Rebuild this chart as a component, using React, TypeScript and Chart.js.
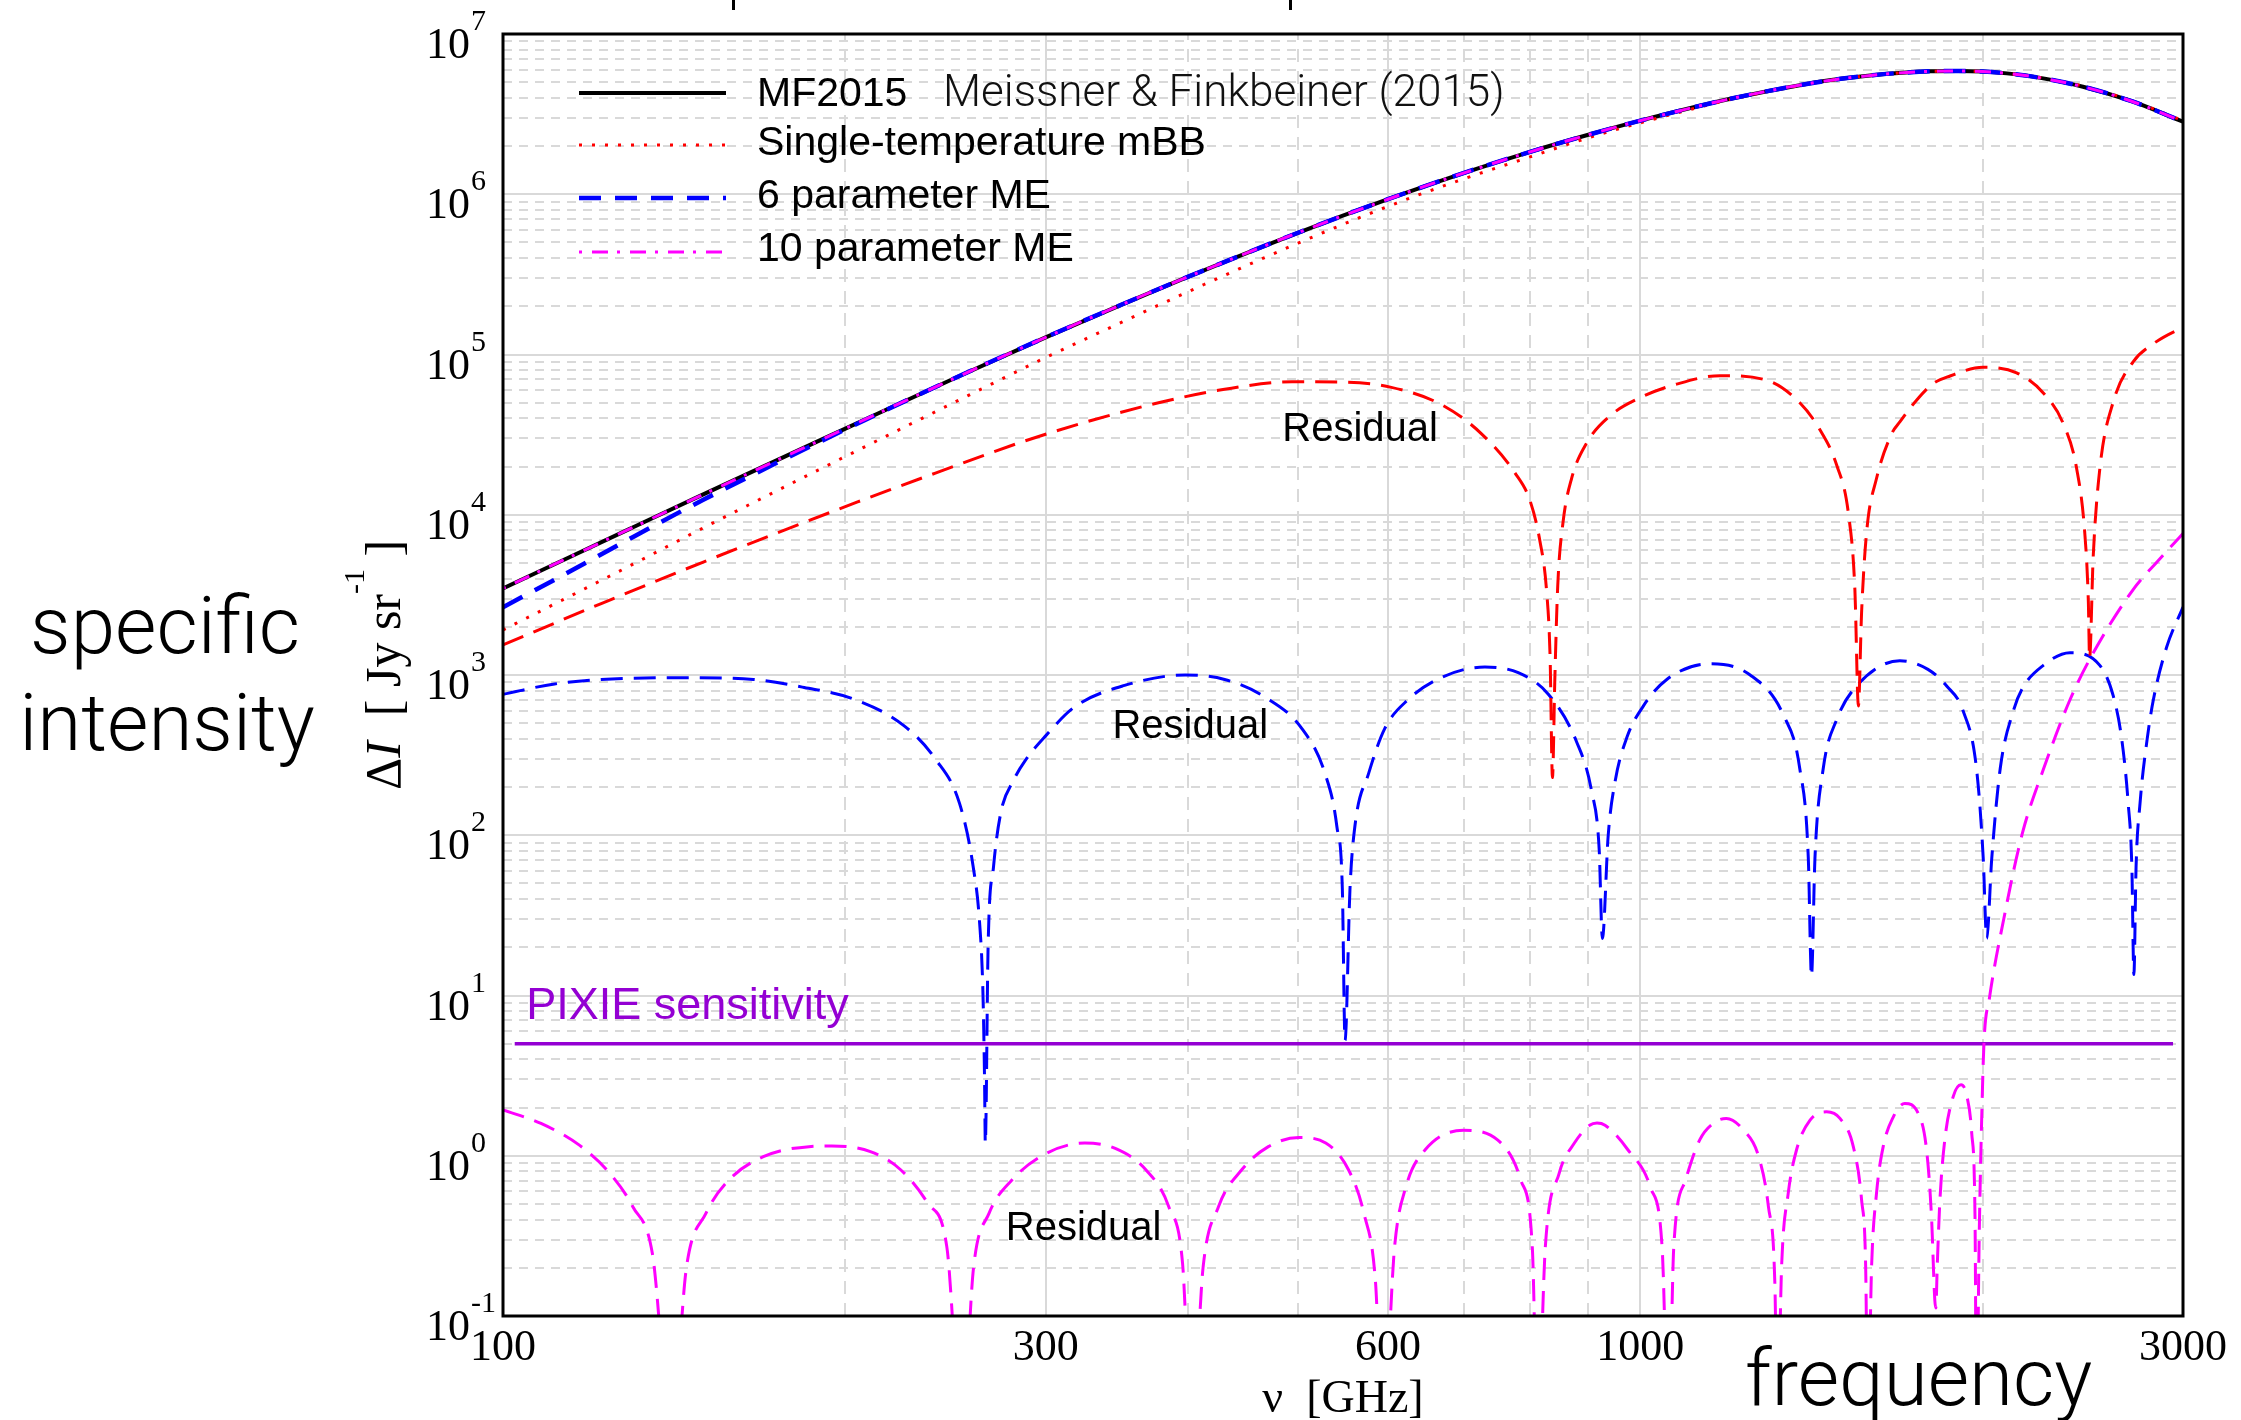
import { useEffect, useRef } from "react";
import { Chart, registerables } from "chart.js";

Chart.register(...registerables);

// ---------- data (frequency in GHz, intensity in Jy/sr) ----------

const MODEL_FREQ = [100, 115, 130, 150, 200, 250, 300, 350, 400, 500, 600, 700, 800, 900, 1000, 1200, 1400, 1500, 1600, 1700, 1800, 1900, 2000, 2100, 2200, 2450, 2700, 3000];

const MF2015 = [3470, 5530, 8320, 1.34e4, 3.45e4, 7.16e4, 1.28e5, 2.05e5, 3.05e5, 5.75e5, 9.31e5, 1.36e6, 1.84e6, 2.35e6, 2.88e6, 3.94e6, 4.88e6, 5.25e6, 5.53e6, 5.73e6, 5.85e6, 5.88e6, 5.83e6, 5.68e6, 5.46e6, 4.69e6, 3.82e6, 2.84e6];

const SINGLE_T_MBB = [1910, 3150, 4900, 8280, 2.31e4, 5.07e4, 9.57e4, 1.59e5, 2.46e5, 4.95e5, 8.4e5, 1.25e6, 1.71e6, 2.25e6, 2.79e6, 3.9e6, 4.86e6, 5.25e6, 5.53e6, 5.73e6, 5.85e6, 5.88e6, 5.83e6, 5.68e6, 5.47e6, 4.73e6, 3.85e6, 2.88e6];

const ME6 = [2650, 4500, 7240, 1.24e4, 3.41e4, 7.16e4, 1.28e5, 2.05e5, 3.05e5, 5.75e5, 9.31e5, 1.36e6, 1.84e6, 2.35e6, 2.88e6, 3.94e6, 4.88e6, 5.25e6, 5.53e6, 5.73e6, 5.85e6, 5.88e6, 5.83e6, 5.68e6, 5.46e6, 4.69e6, 3.82e6, 2.84e6];

const ME10 = [3470, 5530, 8320, 1.34e4, 3.45e4, 7.16e4, 1.28e5, 2.05e5, 3.05e5, 5.75e5, 9.31e5, 1.36e6, 1.84e6, 2.35e6, 2.88e6, 3.94e6, 4.88e6, 5.25e6, 5.53e6, 5.73e6, 5.85e6, 5.88e6, 5.83e6, 5.68e6, 5.46e6, 4.69e6, 3.82e6, 2.84e6];

// |MF2015 - single-temperature mBB|
const RES_MBB_FREQ = [100, 122, 150, 184, 205, 240, 288, 329, 377, 431, 494, 546, 604, 669, 725, 776, 800, 816, 827, 833, 837, 841, 846, 855, 870, 897, 940, 1003, 1076, 1175, 1291, 1381, 1438, 1488, 1524, 1544, 1555, 1565, 1581, 1613, 1663, 1691, 1750, 1807, 1872, 2001, 2142, 2261, 2355, 2419, 2460, 2477, 2483, 2501, 2535, 2605, 2713, 2825, 2962, 3000];
const RES_MBB = [1540, 2790, 5070, 8950, 12020, 18200, 28970, 38730, 50000, 60670, 67610, 67300, 62370, 48530, 31990, 18200, 12190, 6855, 3388, 1294, 229, 933, 3606, 8913, 16830, 28050, 41300, 54330, 65310, 73790, 69180, 50000, 34040, 20420, 10120, 3388, 641, 2455, 7762, 16830, 31920, 37930, 52000, 65460, 73450, 83180, 76910, 57540, 36810, 19360, 7396, 2825, 1268, 5370, 19360, 50700, 90360, 116700, 141300, 146200];

// |MF2015 - 6 parameter ME|
const RES_ME6_FREQ = [100, 111, 122, 145, 166, 184, 203, 225, 240, 252, 259, 262.5, 264.2, 265.1, 265.5, 267, 270, 274, 281, 288, 300, 318, 352, 398, 431, 468, 504, 528, 541, 547, 550, 555.5, 561, 577, 596, 625, 669, 730, 781, 830, 879, 906, 920, 926, 937, 950, 973, 1006, 1055, 1151, 1249, 1336, 1381, 1405, 1414, 1424, 1448, 1488, 1555, 1691, 1790, 1860, 1922, 1975, 2002, 2016, 2037, 2072, 2128, 2167, 2261, 2386, 2535, 2605, 2650, 2685, 2705, 2716, 2728, 2750, 2790, 2825, 2902, 3000];
const RES_ME6 = [759, 879, 938, 962, 938, 836, 711, 485, 299, 158, 64.3, 27.9, 10.7, 2.95, 1.2, 20.2, 64.3, 139, 219, 294, 417, 631, 861, 1000, 938, 726, 463, 244, 113, 46, 5.25, 46, 113, 244, 463, 703, 968, 1122, 1033, 759, 382, 189, 82, 22.7, 100, 215, 407, 640, 938, 1175, 1000, 562, 260, 72, 13.2, 72, 260, 527, 879, 1227, 1084, 851, 598, 260, 72, 22.7, 72, 260, 598, 824, 1148, 1377, 1148, 740, 398, 158, 63, 13.5, 63, 158, 398, 698, 1489, 2655];

// |MF2015 - 10 parameter ME|
const RES_ME10_FREQ = [100, 108, 116.8, 124.2, 130.1, 135.3, 140.6, 145, 150.8, 158, 169.4, 185.8, 194.6, 210.4, 223.8, 236.3, 245.6, 253.2, 259.3, 267.5, 280.2, 300.4, 324.7, 345.4, 367.6, 385, 395.8, 403.3, 412.7, 425.6, 446, 470.9, 501, 528.9, 554, 571.4, 584.8, 593.9, 608, 622.2, 646.9, 698.9, 749.4, 785, 803.5, 812.3, 825, 848.3, 875, 902.5, 916, 931, 975, 1021, 1045, 1059, 1070, 1096, 1128, 1160, 1190, 1232, 1270, 1296, 1313, 1320, 1331, 1349, 1372, 1410, 1458, 1498, 1539, 1565, 1578, 1585, 1597, 1613, 1635, 1669, 1708, 1755, 1785, 1803, 1815, 1819, 1824, 1834, 1852, 1884, 1914, 1936, 1956, 1969, 1975, 1986, 1996, 2005, 2027, 2090, 2167, 2261, 2386, 2486, 2713, 2850, 3000];
const RES_ME10 = [1.93, 1.59, 1.16, 0.774, 0.479, 0.246, 0.02, 0.203, 0.437, 0.706, 0.986, 1.14, 1.15, 1.06, 0.815, 0.505, 0.27, 0.02, 0.203, 0.437, 0.706, 1.035, 1.2, 1.11, 0.815, 0.479, 0.214, 0.02, 0.204, 0.479, 0.815, 1.14, 1.3, 1.2, 0.815, 0.437, 0.168, 0.02, 0.27, 0.641, 1.09, 1.44, 1.25, 0.706, 0.27, 0.02, 0.27, 0.774, 1.2, 1.55, 1.6, 1.55, 1.09, 0.631, 0.27, 0.02, 0.27, 0.706, 1.26, 1.6, 1.71, 1.45, 1.0, 0.481, 0.16, 0.02, 0.203, 0.582, 1.09, 1.67, 1.88, 1.71, 1.14, 0.53, 0.203, 0.02, 0.203, 0.582, 1.14, 1.75, 2.12, 1.84, 1.09, 0.417, 0.126, 0.112, 0.203, 0.53, 1.25, 2.34, 2.77, 2.39, 1.38, 0.417, 0.02, 0.328, 1.75, 5.04, 9.55, 31.6, 102.6, 257, 698, 1268, 3428, 5129, 7638];

const PIXIE_FREQ = [102.4, 2940];
const PIXIE_LEVEL = [5, 5];

// ---------- axes ----------
const X_MIN = 100;
const X_MAX = 3000;
const Y_MIN = 0.1;
const Y_MAX = 1e7;
const X_TICKS = [100, 300, 600, 1000, 3000];
const X_MINOR = [200, 400, 500, 700, 800, 900, 2000];
const Y_EXPONENTS = [-1, 0, 1, 2, 3, 4, 5, 6, 7];

const LEGEND_ORDER = ["MF2015", "Single-temperature mBB", "6 parameter ME", "10 parameter ME"];

const SERIF = '"Liberation Serif", "Times New Roman", Times, serif';
const SANS = '"Liberation Sans", Arial, Helvetica, sans-serif';
const LIGHT = 'Roboto, "Liberation Sans", Arial, sans-serif';
const GRID = "#d9d9d9";
const VIOLET = "#9400d3";

const pts = (xs: number[], ys: number[]) => xs.map((x, i) => ({ x, y: ys[i] }));

const decor = {
  id: "decor",
  beforeDatasetsDraw(chart: any) {
    const { ctx, chartArea: a, scales } = chart;
    const xs = scales.x;
    const ys = scales.y;
    ctx.save();
    ctx.beginPath();
    ctx.rect(a.left, a.top, a.right - a.left, a.bottom - a.top);
    ctx.clip();
    ctx.strokeStyle = GRID;
    ctx.lineWidth = 2;
    // minor horizontal lines
    ctx.setLineDash([9, 7]);
    for (let d = -1; d < 7; d++) {
      for (let m = 2; m <= 9; m++) {
        const py = Math.round(ys.getPixelForValue(m * Math.pow(10, d)));
        ctx.beginPath();
        ctx.moveTo(a.left, py);
        ctx.lineTo(a.right, py);
        ctx.stroke();
      }
    }
    // minor vertical lines
    ctx.setLineDash([13, 9]);
    for (const v of X_MINOR) {
      const px = Math.round(xs.getPixelForValue(v));
      ctx.beginPath();
      ctx.moveTo(px, a.bottom);
      ctx.lineTo(px, a.top);
      ctx.stroke();
    }
    // major lines
    ctx.setLineDash([]);
    for (const e of Y_EXPONENTS) {
      const py = Math.round(ys.getPixelForValue(Math.pow(10, e)));
      ctx.beginPath();
      ctx.moveTo(a.left, py);
      ctx.lineTo(a.right, py);
      ctx.stroke();
    }
    for (const v of X_TICKS) {
      const px = Math.round(xs.getPixelForValue(v));
      ctx.beginPath();
      ctx.moveTo(px, a.bottom);
      ctx.lineTo(px, a.top);
      ctx.stroke();
    }
    ctx.restore();
  },
  afterDatasetsDraw(chart: any) {
    const { ctx, chartArea: a, scales } = chart;
    const xs = scales.x;
    const ys = scales.y;
    ctx.save();

    // frame
    ctx.setLineDash([]);
    ctx.strokeStyle = "#000";
    ctx.lineWidth = 3;
    ctx.strokeRect(a.left, a.top, a.right - a.left, a.bottom - a.top);

    // y tick labels: 10^n
    ctx.fillStyle = "#000";
    for (const e of Y_EXPONENTS) {
      const py = ys.getPixelForValue(Math.pow(10, e));
      ctx.font = `44px ${SERIF}`;
      ctx.textAlign = "right";
      ctx.textBaseline = "alphabetic";
      ctx.fillText("10", a.left - 33, py + 24);
      ctx.font = `30px ${SERIF}`;
      ctx.textAlign = "left";
      ctx.fillText(String(e), a.left - 32, py - 4);
    }

    // x tick labels
    ctx.font = `44px ${SERIF}`;
    ctx.textAlign = "center";
    for (const v of X_TICKS) {
      ctx.fillText(String(v), xs.getPixelForValue(v), a.bottom + 44);
    }

    // x axis title
    ctx.font = `46px ${SERIF}`;
    ctx.fillText("\u03bd  [GHz]", (a.left + a.right) / 2, a.bottom + 96);

    // y axis title, rotated
    ctx.save();
    ctx.translate(a.left - 103, 790);
    ctx.rotate(-Math.PI / 2);
    ctx.textAlign = "left";
    let cx = 0;
    const put = (t: string, font: string, dy: number) => {
      ctx.font = font;
      ctx.fillText(t, cx, dy);
      cx += ctx.measureText(t).width;
    };
    put("\u0394", `50px ${SERIF}`, 0);
    put("I", `italic 50px ${SERIF}`, 0);
    put("  [ Jy sr", `50px ${SERIF}`, 0);
    put("-1", `30px ${SERIF}`, -36);
    put(" ]", `50px ${SERIF}`, 0);
    ctx.restore();

    // curve annotations
    ctx.font = `40px ${SANS}`;
    ctx.textAlign = "center";
    ctx.textBaseline = "middle";
    ctx.fillStyle = "#000";
    ctx.fillText("Residual", xs.getPixelForValue(567), ys.getPixelForValue(3.38e4));
    ctx.fillText("Residual", xs.getPixelForValue(402), ys.getPixelForValue(473));
    ctx.fillText("Residual", xs.getPixelForValue(324), ys.getPixelForValue(0.349));

    ctx.font = `45px ${SANS}`;
    ctx.textAlign = "left";
    ctx.textBaseline = "alphabetic";
    ctx.fillStyle = VIOLET;
    ctx.fillText("PIXIE sensitivity", xs.getPixelForValue(104.8), ys.getPixelForValue(7.13));

    // legend
    const rowsY = [93, 145, 198, 252];
    const baseY = [106, 155, 208, 261];
    LEGEND_ORDER.forEach((name, i) => {
      const ds = chart.data.datasets.find((d: any) => d.label === name);
      const ly = a.top + rowsY[i] - 34;
      ctx.strokeStyle = ds.borderColor;
      ctx.lineWidth = ds.borderWidth;
      ctx.setLineDash(ds.borderDash || []);
      ctx.beginPath();
      ctx.moveTo(a.left + 76, ly);
      ctx.lineTo(a.left + 223, ly);
      ctx.stroke();
      ctx.fillStyle = "#000";
      ctx.font = `41px ${SANS}`;
      ctx.fillText(name, a.left + 254, a.top + baseY[i] - 34);
    });
    ctx.setLineDash([]);
    ctx.font = `300 44px ${LIGHT}`;
    ctx.fillStyle = "#111";
    ctx.fillText("Meissner & Finkbeiner (2015)", a.left + 440, a.top + baseY[0] - 34);

    // slide captions
    ctx.fillStyle = "#000";
    ctx.font = `300 80px ${LIGHT}`;
    ctx.textAlign = "center";
    ctx.fillText("specific", 165, 653);
    ctx.fillText("intensity", 167, 750);
    ctx.textAlign = "left";
    ctx.fillText("frequency", 1745, 1405);

    // descenders of the clipped heading above
    ctx.fillRect(732, 0, 3, 10);
    ctx.fillRect(1289, 0, 3, 10);

    ctx.restore();
  },
};

export default function App() {
  const canvasRef = useRef<HTMLCanvasElement>(null);

  useEffect(() => {
    const common = { pointRadius: 0, fill: false, cubicInterpolationMode: "monotone" as const };
    // Chart.js paints the first dataset last, so the list runs from top layer to bottom layer.
    const chart = new Chart(canvasRef.current as HTMLCanvasElement, {
      type: "line",
      data: {
        datasets: [
          { ...common, label: "10 parameter ME", data: pts(MODEL_FREQ, ME10), borderColor: "#ff00ff", borderWidth: 3, borderDash: [3, 10, 16, 9] },
          { ...common, label: "6 parameter ME", data: pts(MODEL_FREQ, ME6), borderColor: "#0000ff", borderWidth: 4.5, borderDash: [22, 14] },
          { ...common, label: "Single-temperature mBB", data: pts(MODEL_FREQ, SINGLE_T_MBB), borderColor: "#ff0000", borderWidth: 3, borderDash: [3, 10] },
          { ...common, label: "MF2015", data: pts(MODEL_FREQ, MF2015), borderColor: "#000000", borderWidth: 4 },
          { ...common, label: "mBB residual", data: pts(RES_MBB_FREQ, RES_MBB), borderColor: "#ff0000", borderWidth: 3, borderDash: [22, 11] },
          { ...common, label: "10 parameter ME residual", data: pts(RES_ME10_FREQ, RES_ME10), borderColor: "#ff00ff", borderWidth: 3, borderDash: [22, 11] },
          { ...common, label: "6 parameter ME residual", data: pts(RES_ME6_FREQ, RES_ME6), borderColor: "#0000ff", borderWidth: 3, borderDash: [22, 11] },
          { ...common, label: "PIXIE sensitivity", data: pts(PIXIE_FREQ, PIXIE_LEVEL), borderColor: VIOLET, borderWidth: 3.5 },
        ],
      },
      options: {
        responsive: false,
        maintainAspectRatio: false,
        devicePixelRatio: 1,
        animation: false,
        events: [],
        layout: { padding: { left: 503, top: 34, right: 58, bottom: 104 } },
        plugins: { legend: { display: false }, tooltip: { enabled: false } },
        scales: {
          x: { type: "logarithmic", min: X_MIN, max: X_MAX, display: false },
          y: { type: "logarithmic", min: Y_MIN, max: Y_MAX, display: false },
        },
      },
      plugins: [decor],
    } as any);
    return () => chart.destroy();
  }, []);

  return (
    <div style={{ position: "fixed", left: 0, top: 0, width: 2241, height: 1420, background: "#ffffff", overflow: "hidden" }}>
      <canvas ref={canvasRef} width={2241} height={1420} style={{ display: "block", width: 2241, height: 1420 }} />
    </div>
  );
}
